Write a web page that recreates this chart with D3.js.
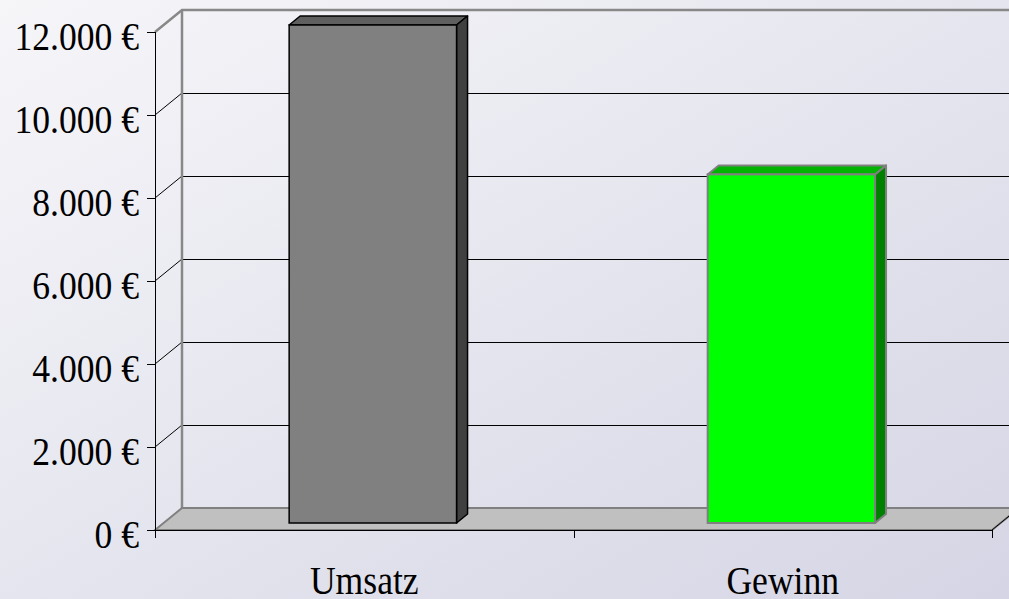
<html lang="de">
<head>
    <meta charset="UTF-8">
    <title>Umsatz und Gewinn</title>
    <style>
        body { margin: 0; overflow: hidden; }
        svg#chart { display: block; }
        text { font-family: "Liberation Serif", "Times New Roman", serif; fill: #000; }
        .crisp { shape-rendering: crispEdges; }
    </style>
</head>
<body>
    <svg id="chart"></svg>
    <script src="https://cdnjs.cloudflare.com/ajax/libs/d3/7.8.5/d3.min.js"></script>
    <script>
        // Data
        var categories = ["Umsatz", "Gewinn"];
        var values = [12000, 8400];
        var tickValues = [0, 2000, 4000, 6000, 8000, 10000, 12000];
        var barColours = [
            { front: "#808080", top: "#5f5f5f", side: "#404040", stroke: "#000" },
            { front: "#00ff00", top: "#00b400", side: "#008000", stroke: "#808080" }
        ];

        var width = 1009, height = 599;
        // plot box (front plane) and wall depth
        var plotLeft = 155, plotRight = 992, plotTop = 32, plotBottom = 530;
        var depthX = 27, depthY = 22;
        // bars sit a bit behind the front plane
        var barOffX = 8.6, barOffY = 7, barDepthX = 11, barDepthY = 9;

        var svg = d3.select("#chart").attr("width", width).attr("height", height);

        // background gradient
        var defs = svg.append("defs");
        var grad = defs.append("linearGradient").attr("id", "bg")
            .attr("x1", "0%").attr("y1", "0%").attr("x2", "100%").attr("y2", "100%");
        grad.append("stop").attr("offset", "0%").attr("stop-color", "#f6f6f9");
        grad.append("stop").attr("offset", "100%").attr("stop-color", "#d5d5e5");
        svg.append("rect").attr("width", width).attr("height", height).attr("fill", "url(#bg)");

        var y = d3.scaleLinear().domain([0, 12000]).range([plotBottom, plotTop]);
        var x = d3.scaleBand().domain(categories).range([plotLeft, plotRight])
            .paddingInner(0.6).paddingOuter(0.3);

        var de = d3.formatLocale({ decimal: ",", thousands: ".", grouping: [3], currency: ["", " €"] });
        var fmt = function(d) { return de.format(",")(d) + " €"; };

        var inner = tickValues.filter(function(d) { return d > 0 && d < 12000; });

        // back wall gridlines
        svg.selectAll(".grid").data(inner)
            .enter().append("line").attr("class", "crisp")
            .attr("x1", plotLeft + depthX).attr("x2", width + 20)
            .attr("y1", function(d) { return Math.round(y(d) - depthY) + 0.5; })
            .attr("y2", function(d) { return Math.round(y(d) - depthY) + 0.5; })
            .attr("stroke", "#000").attr("stroke-width", 1);
        // side wall gridlines
        svg.selectAll(".sgrid").data(inner)
            .enter().append("line")
            .attr("x1", plotLeft).attr("x2", plotLeft + depthX)
            .attr("y1", function(d) { return y(d); })
            .attr("y2", function(d) { return y(d) - depthY; })
            .attr("stroke", "#000").attr("stroke-width", 1);

        // wall edges
        svg.append("path")
            .attr("d", "M" + plotLeft + "," + plotTop + "L" + (plotLeft + depthX) + "," + (plotTop - depthY) +
                "L" + (width + 20) + "," + (plotTop - depthY))
            .attr("fill", "none").attr("stroke", "#888").attr("stroke-width", 2.5);
        svg.append("line")
            .attr("x1", plotLeft + depthX).attr("x2", plotLeft + depthX)
            .attr("y1", plotTop - depthY).attr("y2", plotBottom - depthY)
            .attr("stroke", "#888").attr("stroke-width", 2.5);

        // floor
        svg.append("path")
            .attr("d", "M" + plotLeft + "," + plotBottom + "L" + (plotLeft + depthX) + "," + (plotBottom - depthY) +
                "L" + (plotRight + depthX) + "," + (plotBottom - depthY) + "L" + plotRight + "," + plotBottom + "Z")
            .attr("fill", "#c0c0c0").attr("stroke", "#808080").attr("stroke-width", 2);
        svg.append("line")
            .attr("x1", plotRight).attr("y1", plotBottom).attr("x2", plotRight + depthX).attr("y2", plotBottom - depthY)
            .attr("stroke", "#000").attr("stroke-width", 1);

        // bars
        var bar = svg.selectAll(".bar").data(values).enter().append("g").attr("class", "bar");
        bar.each(function(v, i) {
            var g = d3.select(this), c = barColours[i];
            var x0 = x(categories[i]) + barOffX, x1 = x0 + x.bandwidth();
            var y0 = y(0) - barOffY, y1 = y(v) - barOffY;
            var sw = i === 0 ? 1.5 : 2;
            g.append("path")
                .attr("d", "M" + x0 + "," + y1 + "L" + (x0 + barDepthX) + "," + (y1 - barDepthY) +
                    "L" + (x1 + barDepthX) + "," + (y1 - barDepthY) + "L" + x1 + "," + y1 + "Z")
                .attr("fill", c.top).attr("stroke", c.stroke).attr("stroke-width", sw).attr("stroke-linejoin", "round");
            g.append("path")
                .attr("d", "M" + x1 + "," + y1 + "L" + (x1 + barDepthX) + "," + (y1 - barDepthY) +
                    "L" + (x1 + barDepthX) + "," + (y0 - barDepthY) + "L" + x1 + "," + y0 + "Z")
                .attr("fill", c.side).attr("stroke", c.stroke).attr("stroke-width", sw).attr("stroke-linejoin", "round");
            g.append("rect")
                .attr("x", x0).attr("y", y1).attr("width", x1 - x0).attr("height", y0 - y1)
                .attr("fill", c.front).attr("stroke", c.stroke).attr("stroke-width", sw);
        });

        // y axis
        var yAxis = svg.append("g").attr("transform", "translate(" + plotLeft + ",0)")
            .call(d3.axisLeft(y).tickValues(tickValues).tickSize(8).tickFormat(fmt));
        yAxis.select(".domain").attr("class", "domain crisp").attr("stroke", "#000")
            .attr("d", "M0.5," + plotTop + "V" + plotBottom);
        yAxis.selectAll(".tick line").attr("class", "crisp").attr("stroke", "#000");
        yAxis.selectAll(".tick text")
            .attr("x", null).attr("dy", null).attr("y", 17)
            .attr("transform", "translate(-16,0) scale(0.89,1)")
            .style("font-size", "40px").style("font-family", "'Liberation Serif', serif")
            .attr("fill", "#000");

        // x axis
        var xAxis = svg.append("g").attr("transform", "translate(0," + plotBottom + ")");
        xAxis.append("line").attr("class", "crisp").attr("x1", plotLeft).attr("x2", plotRight)
            .attr("y1", 0.5).attr("y2", 0.5).attr("stroke", "#000").attr("stroke-width", 1.5);
        var xTicks = [plotLeft].concat(categories.map(function(d) { return x(d) + x.bandwidth() + x.step() * 0.3; }));
        xAxis.selectAll(".xt").data(xTicks).enter().append("line").attr("class", "crisp")
            .attr("x1", function(d) { return Math.round(d) + 0.5; }).attr("x2", function(d) { return Math.round(d) + 0.5; })
            .attr("y1", 0).attr("y2", 8).attr("stroke", "#000");
        xAxis.selectAll(".xl").data(categories).enter().append("text")
            .attr("transform", function(d) {
                return "translate(" + (x(d) + x.bandwidth() / 2) + ",64) scale(0.89,1)";
            })
            .attr("text-anchor", "middle")
            .style("font-size", "40px")
            .text(function(d) { return d; });
    </script>
</body>
</html>
